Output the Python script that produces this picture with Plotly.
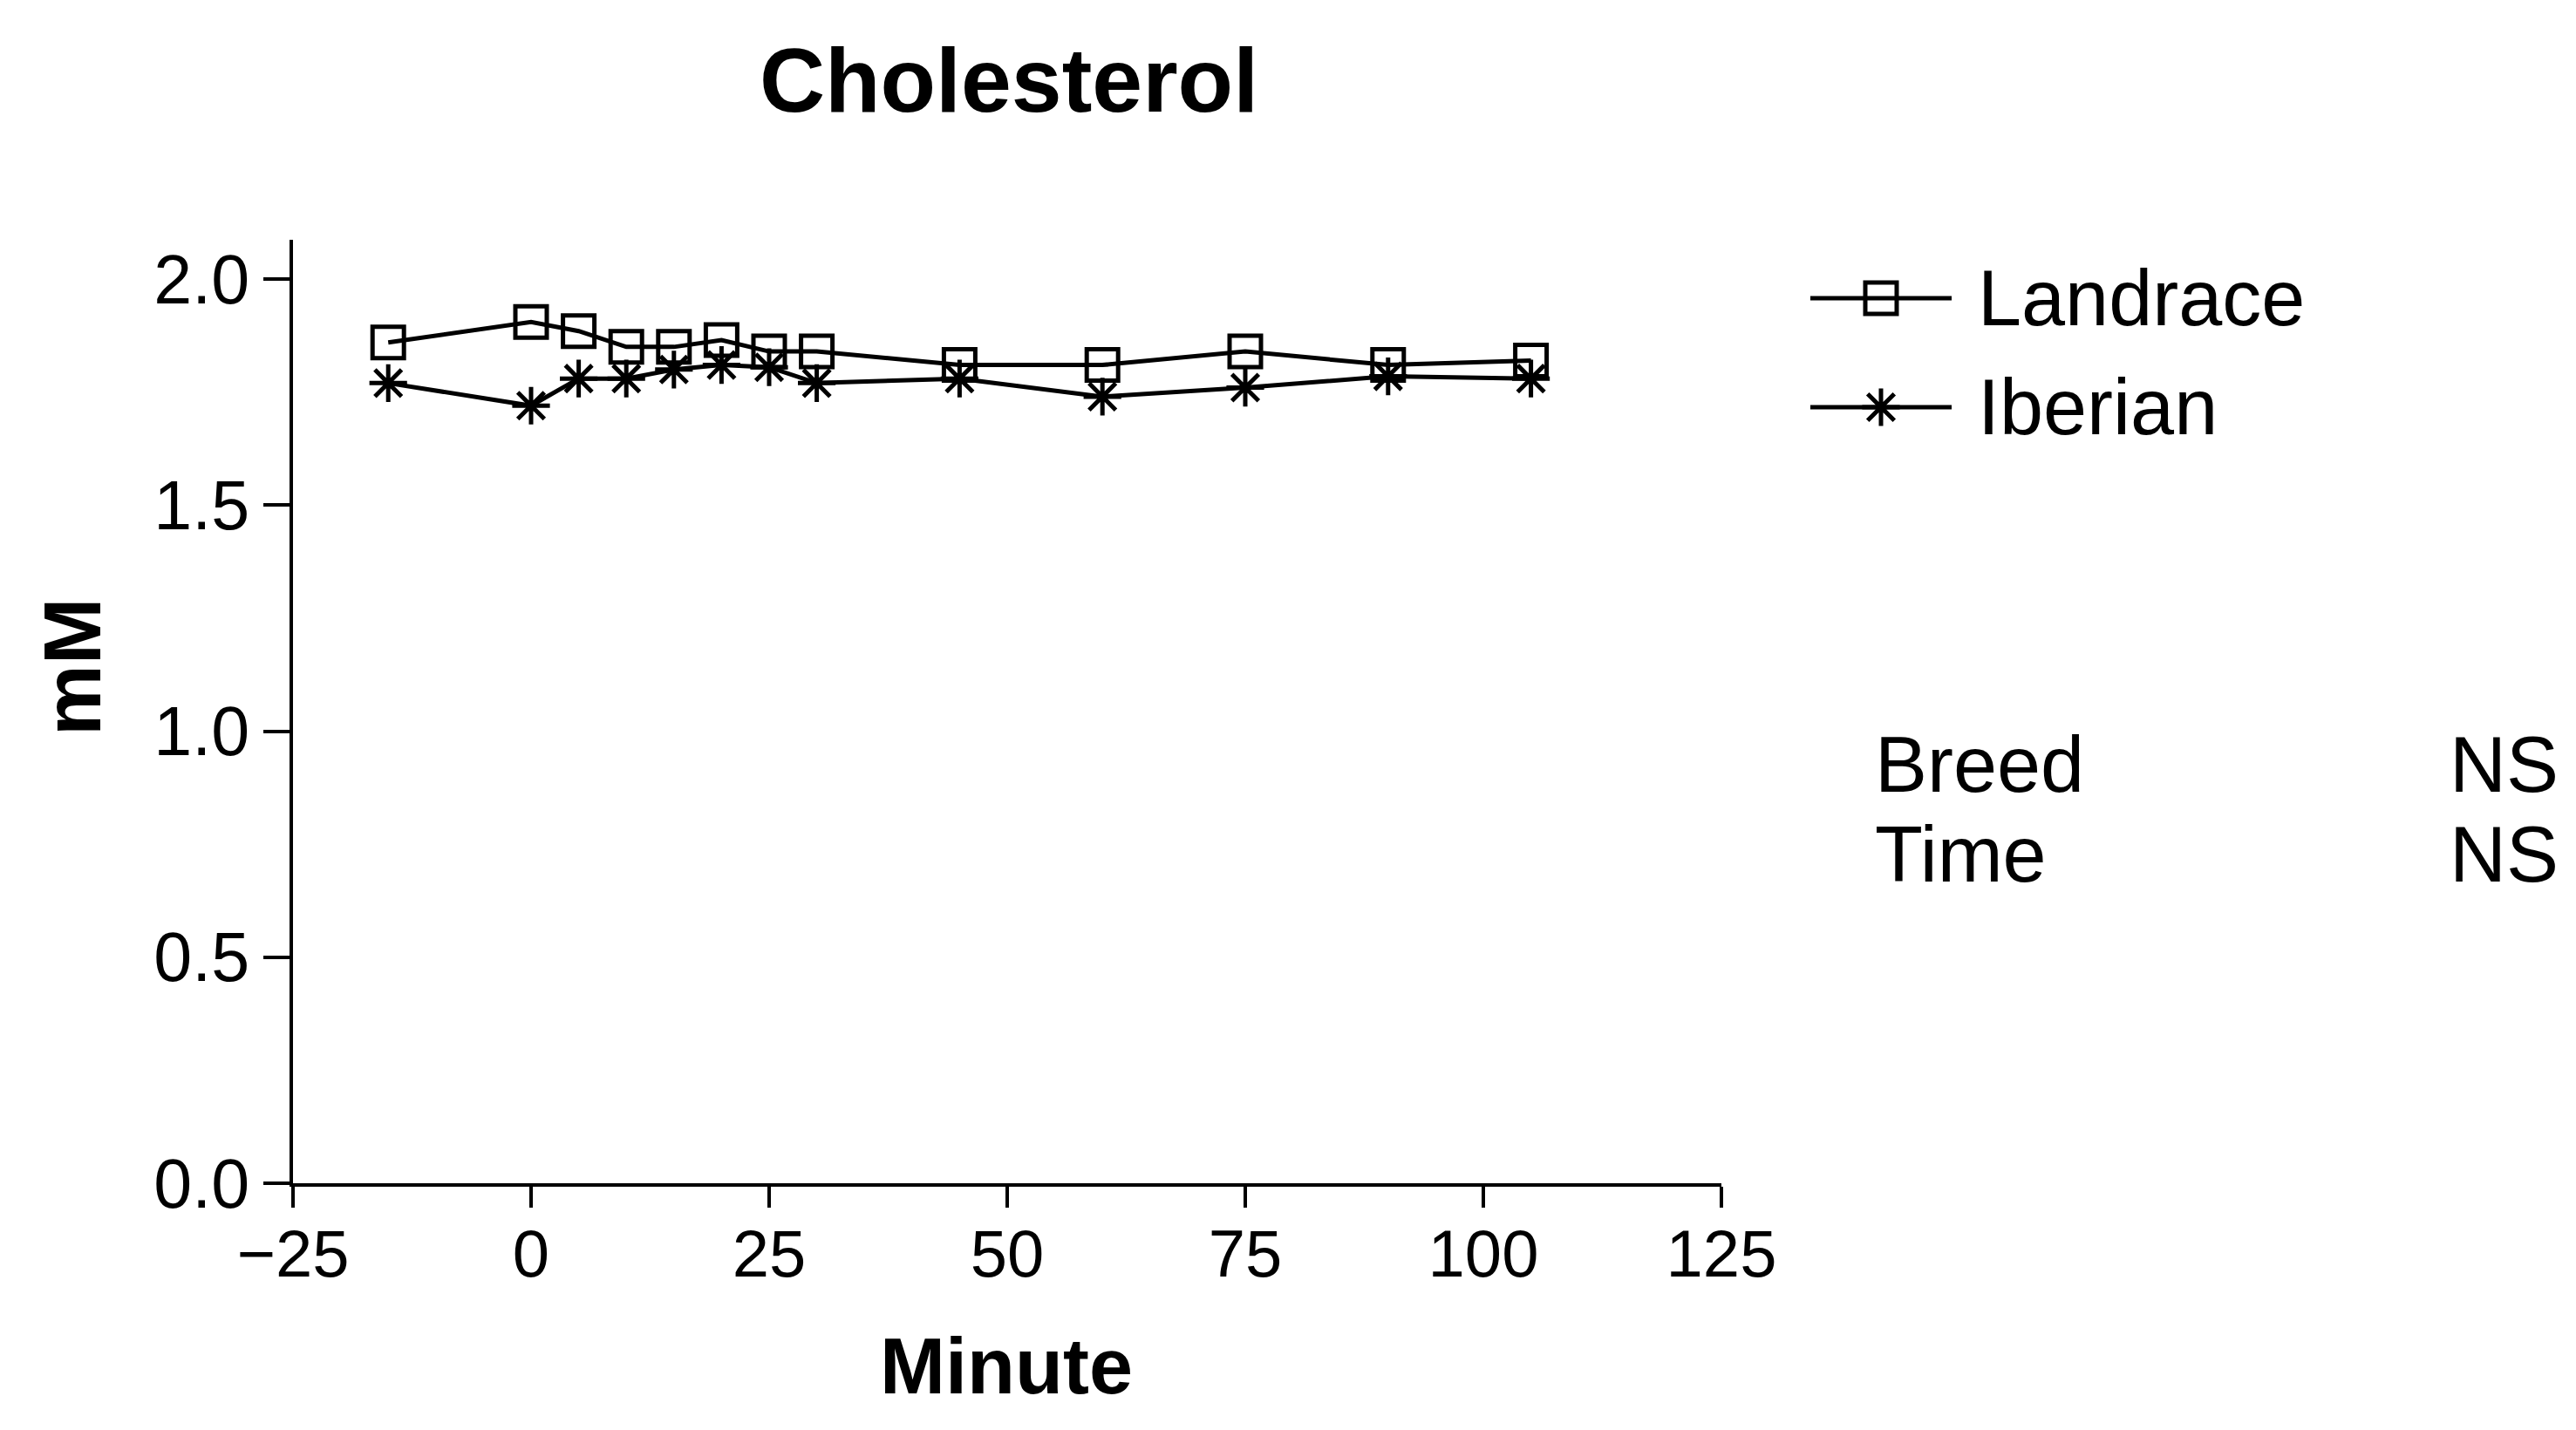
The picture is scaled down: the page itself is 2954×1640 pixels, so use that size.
import plotly.graph_objects as go

minutes = [-15, 0, 5, 10, 15, 20, 25, 30, 45, 60, 75, 90, 105]
landrace = [1.86, 1.905, 1.885, 1.85, 1.85, 1.865, 1.84, 1.84, 1.81, 1.81, 1.84, 1.81, 1.82]
iberian = [1.77, 1.72, 1.78, 1.78, 1.80, 1.81, 1.805, 1.77, 1.78, 1.74, 1.76, 1.785, 1.78]

x_ticks = [-25, 0, 25, 50, 75, 100, 125]
y_ticks = [0.0, 0.5, 1.0, 1.5, 2.0]
y_tick_text = ["0.0", "0.5", "1.0", "1.5", "2.0"]

series_names = ["Landrace", "Iberian"]
series_symbols = ["square-open", "asterisk-open"]
series_sizes = [36, 36]

stats_labels = ["Breed", "Time"]
stats_values = ["NS", "NS"]

FONT = "Liberation Sans, Arial, sans-serif"
W, H = 2954, 1640


def cx(p):
    return p / W


def cy(p):
    return 1 - p / H


fig = go.Figure()
for name, vals, sym, sz in zip(series_names, [landrace, iberian], series_symbols, series_sizes):
    fig.add_trace(go.Scatter(
        x=minutes, y=vals, name=name, mode="lines+markers", showlegend=False,
        line=dict(color="black", width=5),
        marker=dict(symbol=sym, size=sz, color="black", line=dict(width=5, color="black")),
        xaxis="x", yaxis="y",
    ))

# legend keys drawn on a small hidden axis pair (row index as y)
for i, (name, sym, sz) in enumerate(zip(series_names, series_symbols, series_sizes)):
    fig.add_trace(go.Scatter(
        x=[0, 1], y=[i, i], mode="lines", showlegend=False, hoverinfo="skip",
        line=dict(color="black", width=5), xaxis="x2", yaxis="y2",
    ))
    fig.add_trace(go.Scatter(
        x=[0.5], y=[i], mode="markers", showlegend=False, hoverinfo="skip",
        marker=dict(symbol=sym, size=sz, color="black", line=dict(width=5, color="black")),
        xaxis="x2", yaxis="y2",
    ))

annotations = [
    dict(text="<b>mM</b>", textangle=-90, x=cx(75), y=cy(757), xref="paper", yref="paper",
         xanchor="center", yanchor="middle", showarrow=False, font=dict(size=92, color="black", family=FONT)),
    dict(text="<b>Minute</b>", x=cx(1146), y=cy(1559), xref="paper", yref="paper",
         xanchor="center", yanchor="middle", showarrow=False, font=dict(size=90, color="black", family=FONT)),
]
legend_rows = [334, 459]
for name, ry in zip(series_names, legend_rows):
    annotations.append(dict(text=name, x=cx(2258), y=cy(ry), xref="paper", yref="paper",
                            xanchor="left", yanchor="middle", showarrow=False,
                            font=dict(size=90, color="black", family=FONT)))
row_y = [869, 972]
for lab, val, ry in zip(stats_labels, stats_values, row_y):
    annotations.append(dict(text=lab, x=cx(2140), y=cy(ry), xref="paper", yref="paper",
                            xanchor="left", yanchor="middle", showarrow=False,
                            font=dict(size=90, color="black", family=FONT)))
    annotations.append(dict(text=val, x=cx(2928), y=cy(ry), xref="paper", yref="paper",
                            xanchor="right", yanchor="middle", showarrow=False,
                            font=dict(size=90, color="black", family=FONT)))

fig.update_layout(
    width=W, height=H,
    margin=dict(l=0, r=0, t=0, b=0, pad=0, autoexpand=False),
    paper_bgcolor="white", plot_bgcolor="white",
    font=dict(family=FONT, color="black"),
    title=dict(text="<b>Cholesterol</b>", x=cx(1149), xref="paper",
               y=cy(84), yref="paper", yanchor="middle", xanchor="center",
               font=dict(size=104, color="black", family=FONT)),
    showlegend=False,
    annotations=annotations,
    xaxis=dict(
        domain=[cx(328), cx(1966)], anchor="y", automargin=False,
        range=[-25, 125], tickvals=x_ticks,
        ticktext=[("\u2212" + str(-v)) if v < 0 else str(v) for v in x_ticks],
        showline=True, linecolor="black", linewidth=4, ticks="outside", ticklen=24, tickwidth=4,
        tickcolor="black", showgrid=False, zeroline=False, ticklabelstandoff=-12,
        tickfont=dict(size=76, color="black", family=FONT),
    ),
    yaxis=dict(
        domain=[1 - 1349 / H, 1 - 267 / H], anchor="x", automargin=False,
        range=[0, 2.087], tickvals=y_ticks, ticktext=y_tick_text,
        showline=True, linecolor="black", linewidth=4, ticks="outside", ticklen=30, tickwidth=4,
        tickcolor="black", showgrid=False, zeroline=False,
        tickfont=dict(size=79, color="black", family=FONT),
    ),
    xaxis2=dict(domain=[cx(2068), cx(2230)], anchor="y2", range=[0, 1], visible=False,
                fixedrange=True, automargin=False),
    yaxis2=dict(domain=[1 - 521.5 / H, 1 - 271.5 / H], anchor="x2", range=[1.5, -0.5],
                visible=False, fixedrange=True, automargin=False),
)

fig.write_html("out.html")
